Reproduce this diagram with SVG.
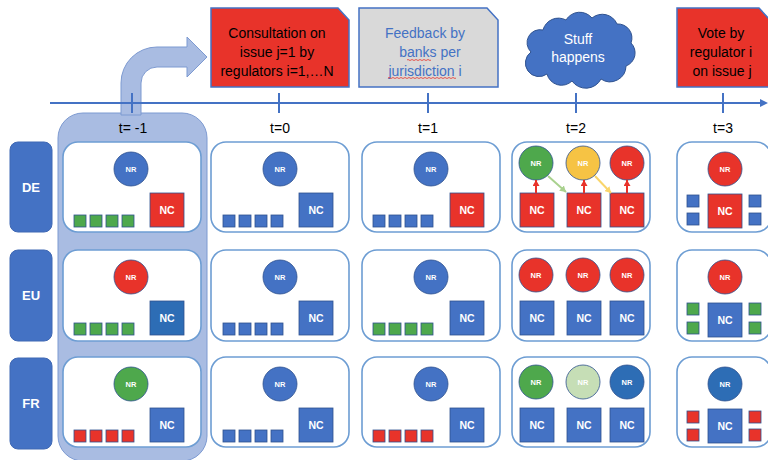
<svg xmlns="http://www.w3.org/2000/svg" width="768" height="460" viewBox="0 0 768 460">
  <defs>
    <style>
      text{font-family:'Liberation Sans',Arial,sans-serif}
      .cell{fill:#fff;stroke:#6D9DD3;stroke-width:1.6}
      .lbl{fill:#4472C4;stroke:#3F68B4;stroke-width:1}
      .lblt{fill:#fff;font-size:13px;font-weight:bold;text-anchor:middle}
      .b{fill:#4472C4}
      .r{fill:#E8332A}
      .g{fill:#4EA84C}
      .y{fill:#F6C344}
      .lg{fill:#C6DEB6}
      .db{fill:#2D6DB5}
      .sh{stroke:#2F528F;stroke-width:0.8}
      .nrt{fill:#fff;font-size:7.5px;font-weight:bold;text-anchor:middle}
      .nct{fill:#fff;font-size:10.5px;font-weight:bold;text-anchor:middle}
      .tl{fill:#000;font-size:14px;text-anchor:middle}
      .note{stroke:#4472C4;stroke-width:1.5}
      .nt{font-size:14px;text-anchor:middle}
      .axis{stroke:#4472C4;stroke-width:2;fill:none}
      .squig{fill:none;stroke:#E8332A;stroke-width:0.8}
    </style>
    <marker id="ahR" markerUnits="userSpaceOnUse" markerWidth="7" markerHeight="7" refX="6" refY="3.5" orient="auto">
      <path d="M0,0 L6,3.5 L0,7 Z" fill="#E8332A"/>
    </marker>
    <marker id="ahG" markerUnits="userSpaceOnUse" markerWidth="7" markerHeight="7" refX="6" refY="3.5" orient="auto">
      <path d="M0,0 L6,3.5 L0,7 Z" fill="#A9D18E"/>
    </marker>
    <marker id="ahY" markerUnits="userSpaceOnUse" markerWidth="7" markerHeight="7" refX="6" refY="3.5" orient="auto">
      <path d="M0,0 L6,3.5 L0,7 Z" fill="#F9D56B"/>
    </marker>
  </defs>

  <!-- highlighted starting column t=-1 -->
  <rect id="col-start" x="58" y="113" width="149" height="348" rx="25" fill="#A9BCE2" stroke="#7D9AD1" stroke-width="1"/>

  <!-- jurisdiction labels -->
  <g id="label-DE"><rect class="lbl" x="10" y="142" width="42" height="90" rx="8"/><text class="lblt" x="31" y="192">DE</text></g>
  <g id="label-EU"><rect class="lbl" x="10" y="250" width="42" height="91" rx="8"/><text class="lblt" x="31" y="300">EU</text></g>
  <g id="label-FR"><rect class="lbl" x="10" y="358" width="42" height="91" rx="8"/><text class="lblt" x="31" y="408">FR</text></g>

  <!-- ===== DE row ===== -->
  <g id="DE-tm1">
    <rect class="cell" x="63" y="142" width="138" height="90" rx="15"/>
    <circle class="b sh" cx="131" cy="169" r="17"/><text class="nrt" x="131" y="171.7">NR</text>
    <rect class="r sh" x="150" y="193" width="34" height="34"/><text class="nct" x="167" y="214">NC</text>
    <rect class="g sh" x="74" y="215" width="12" height="12"/><rect class="g sh" x="90" y="215" width="12" height="12"/><rect class="g sh" x="106" y="215" width="12" height="12"/><rect class="g sh" x="122" y="215" width="12" height="12"/>
  </g>
  <g id="DE-t0">
    <rect class="cell" x="211" y="142" width="138" height="90" rx="15"/>
    <circle class="b sh" cx="280" cy="169" r="17"/><text class="nrt" x="280" y="171.7">NR</text>
    <rect class="b sh" x="299" y="193" width="34" height="34"/><text class="nct" x="316" y="214">NC</text>
    <rect class="b sh" x="223" y="215" width="12" height="12"/><rect class="b sh" x="239" y="215" width="12" height="12"/><rect class="b sh" x="255" y="215" width="12" height="12"/><rect class="b sh" x="271" y="215" width="12" height="12"/>
  </g>
  <g id="DE-t1">
    <rect class="cell" x="362" y="142" width="138" height="90" rx="15"/>
    <circle class="b sh" cx="431" cy="169" r="17"/><text class="nrt" x="431" y="171.7">NR</text>
    <rect class="r sh" x="450" y="193" width="34" height="34"/><text class="nct" x="467" y="214">NC</text>
    <rect class="b sh" x="373" y="215" width="12" height="12"/><rect class="b sh" x="389" y="215" width="12" height="12"/><rect class="b sh" x="405" y="215" width="12" height="12"/><rect class="b sh" x="421" y="215" width="12" height="12"/>
  </g>
  <g id="DE-t2">
    <rect class="cell" x="512" y="142" width="138" height="90" rx="15"/>
    <circle class="g sh" cx="536" cy="163" r="17"/><text class="nrt" x="536" y="165.7">NR</text>
    <circle class="y sh" cx="583" cy="163" r="17"/><text class="nrt" x="583" y="165.7">NR</text>
    <circle class="r sh" cx="627" cy="163" r="17"/><text class="nrt" x="627" y="165.7">NR</text>
    <rect class="r sh" x="520" y="193" width="34" height="34"/><text class="nct" x="537" y="214">NC</text>
    <rect class="r sh" x="567" y="193" width="34" height="34"/><text class="nct" x="584" y="214">NC</text>
    <rect class="r sh" x="610" y="193" width="34" height="34"/><text class="nct" x="627" y="214">NC</text>
  </g>
  <g id="DE-t3">
    <rect class="cell" x="677" y="142" width="94" height="90" rx="15"/>
    <circle class="r sh" cx="725" cy="169" r="17"/><text class="nrt" x="725" y="171.7">NR</text>
    <rect class="r sh" x="708" y="194" width="34" height="34"/><text class="nct" x="725" y="215">NC</text>
    <rect class="b sh" x="687" y="195" width="12" height="12"/><rect class="b sh" x="687" y="213" width="12" height="12"/>
    <rect class="b sh" x="749" y="195" width="12" height="12"/><rect class="b sh" x="749" y="213" width="12" height="12"/>
  </g>

  <!-- ===== EU row ===== -->
  <g id="EU-tm1">
    <rect class="cell" x="63" y="250" width="138" height="91" rx="15"/>
    <circle class="r sh" cx="131" cy="277" r="17"/><text class="nrt" x="131" y="279.7">NR</text>
    <rect class="db sh" x="150" y="301" width="34" height="34"/><text class="nct" x="167" y="322">NC</text>
    <rect class="g sh" x="74" y="323" width="12" height="12"/><rect class="g sh" x="90" y="323" width="12" height="12"/><rect class="g sh" x="106" y="323" width="12" height="12"/><rect class="g sh" x="122" y="323" width="12" height="12"/>
  </g>
  <g id="EU-t0">
    <rect class="cell" x="211" y="250" width="138" height="91" rx="15"/>
    <circle class="b sh" cx="280" cy="277" r="17"/><text class="nrt" x="280" y="279.7">NR</text>
    <rect class="b sh" x="299" y="301" width="34" height="34"/><text class="nct" x="316" y="322">NC</text>
    <rect class="b sh" x="223" y="323" width="12" height="12"/><rect class="b sh" x="239" y="323" width="12" height="12"/><rect class="b sh" x="255" y="323" width="12" height="12"/><rect class="b sh" x="271" y="323" width="12" height="12"/>
  </g>
  <g id="EU-t1">
    <rect class="cell" x="362" y="250" width="138" height="91" rx="15"/>
    <circle class="b sh" cx="431" cy="277" r="17"/><text class="nrt" x="431" y="279.7">NR</text>
    <rect class="b sh" x="450" y="301" width="34" height="34"/><text class="nct" x="467" y="322">NC</text>
    <rect class="g sh" x="373" y="323" width="12" height="12"/><rect class="g sh" x="389" y="323" width="12" height="12"/><rect class="g sh" x="405" y="323" width="12" height="12"/><rect class="g sh" x="421" y="323" width="12" height="12"/>
  </g>
  <g id="EU-t2">
    <rect class="cell" x="512" y="250" width="138" height="91" rx="15"/>
    <circle class="r sh" cx="536" cy="275" r="17"/><text class="nrt" x="536" y="277.7">NR</text>
    <circle class="r sh" cx="583" cy="275" r="17"/><text class="nrt" x="583" y="277.7">NR</text>
    <circle class="r sh" cx="627" cy="275" r="17"/><text class="nrt" x="627" y="277.7">NR</text>
    <rect class="b sh" x="520" y="301" width="34" height="34"/><text class="nct" x="537" y="322">NC</text>
    <rect class="b sh" x="567" y="301" width="34" height="34"/><text class="nct" x="584" y="322">NC</text>
    <rect class="b sh" x="610" y="301" width="34" height="34"/><text class="nct" x="627" y="322">NC</text>
  </g>
  <g id="EU-t3">
    <rect class="cell" x="677" y="250" width="94" height="91" rx="15"/>
    <circle class="r sh" cx="725" cy="277" r="17"/><text class="nrt" x="725" y="279.7">NR</text>
    <rect class="b sh" x="708" y="303" width="34" height="34"/><text class="nct" x="725" y="324">NC</text>
    <rect class="g sh" x="687" y="303" width="12" height="12"/><rect class="g sh" x="687" y="322" width="12" height="12"/>
    <rect class="g sh" x="749" y="303" width="12" height="12"/><rect class="g sh" x="749" y="322" width="12" height="12"/>
  </g>

  <!-- ===== FR row ===== -->
  <g id="FR-tm1">
    <rect class="cell" x="63" y="357" width="138" height="90" rx="15"/>
    <circle class="g sh" cx="131" cy="384" r="17"/><text class="nrt" x="131" y="386.7">NR</text>
    <rect class="b sh" x="150" y="408" width="34" height="34"/><text class="nct" x="167" y="429">NC</text>
    <rect class="r sh" x="74" y="430" width="12" height="12"/><rect class="r sh" x="90" y="430" width="12" height="12"/><rect class="r sh" x="106" y="430" width="12" height="12"/><rect class="r sh" x="122" y="430" width="12" height="12"/>
  </g>
  <g id="FR-t0">
    <rect class="cell" x="211" y="357" width="138" height="90" rx="15"/>
    <circle class="b sh" cx="280" cy="384" r="17"/><text class="nrt" x="280" y="386.7">NR</text>
    <rect class="b sh" x="299" y="408" width="34" height="34"/><text class="nct" x="316" y="429">NC</text>
    <rect class="b sh" x="223" y="430" width="12" height="12"/><rect class="b sh" x="239" y="430" width="12" height="12"/><rect class="b sh" x="255" y="430" width="12" height="12"/><rect class="b sh" x="271" y="430" width="12" height="12"/>
  </g>
  <g id="FR-t1">
    <rect class="cell" x="362" y="357" width="138" height="90" rx="15"/>
    <circle class="b sh" cx="431" cy="384" r="17"/><text class="nrt" x="431" y="386.7">NR</text>
    <rect class="b sh" x="450" y="408" width="34" height="34"/><text class="nct" x="467" y="429">NC</text>
    <rect class="r sh" x="373" y="430" width="12" height="12"/><rect class="r sh" x="389" y="430" width="12" height="12"/><rect class="r sh" x="405" y="430" width="12" height="12"/><rect class="r sh" x="421" y="430" width="12" height="12"/>
  </g>
  <g id="FR-t2">
    <rect class="cell" x="512" y="357" width="138" height="90" rx="15"/>
    <circle class="g sh" cx="536" cy="382" r="17"/><text class="nrt" x="536" y="384.7">NR</text>
    <circle class="lg sh" cx="583" cy="382" r="17"/><text class="nrt" x="583" y="384.7">NR</text>
    <circle class="db sh" cx="627" cy="382" r="17"/><text class="nrt" x="627" y="384.7">NR</text>
    <rect class="b sh" x="520" y="408" width="34" height="34"/><text class="nct" x="537" y="429">NC</text>
    <rect class="b sh" x="567" y="408" width="34" height="34"/><text class="nct" x="584" y="429">NC</text>
    <rect class="b sh" x="610" y="408" width="34" height="34"/><text class="nct" x="627" y="429">NC</text>
  </g>
  <g id="FR-t3">
    <rect class="cell" x="677" y="357" width="94" height="90" rx="15"/>
    <circle class="db sh" cx="725" cy="384" r="17"/><text class="nrt" x="725" y="386.7">NR</text>
    <rect class="b sh" x="708" y="409" width="34" height="34"/><text class="nct" x="725" y="430">NC</text>
    <rect class="r sh" x="687" y="411" width="12" height="12"/><rect class="r sh" x="687" y="429" width="12" height="12"/>
    <rect class="r sh" x="749" y="411" width="12" height="12"/><rect class="r sh" x="749" y="429" width="12" height="12"/>
  </g>

  <!-- connectors -->
  <g id="connectors" fill="none" stroke-width="2">
    <line x1="536" y1="193" x2="536" y2="180" stroke="#E8332A" marker-end="url(#ahR)"/>
    <line x1="584" y1="193" x2="584" y2="180" stroke="#E8332A" marker-end="url(#ahR)"/>
    <line x1="627" y1="193" x2="627" y2="180" stroke="#E8332A" marker-end="url(#ahR)"/>
    <line x1="548" y1="176" x2="566" y2="192" stroke="#A9D18E" marker-end="url(#ahG)"/>
    <line x1="595" y1="176" x2="611" y2="193" stroke="#F9D56B" marker-end="url(#ahY)"/>
  </g>

  <!-- bent arrow leading from the start column to the consultation -->
  <path id="bent-arrow" d="M121,115 L121,83 A36,36 0 0 1 157,47 L187,47 L187,37 L207,57 L187,77 L187,67 L157,67 A16,16 0 0 0 141,83 L141,115 Z" fill="#A9BCE2" stroke="#7D9AD1" stroke-width="1"/>

  <!-- time axis -->
  <g id="timeline">
    <line class="axis" x1="50" y1="103" x2="762" y2="103"/>
    <path d="M760,99 L768,103 L760,107 Z" fill="#4472C4"/>
    <line class="axis" x1="132" y1="93" x2="132" y2="113"/>
    <line class="axis" x1="279" y1="93" x2="279" y2="113"/>
    <line class="axis" x1="428" y1="93" x2="428" y2="113"/>
    <line class="axis" x1="576" y1="93" x2="576" y2="113"/>
    <line class="axis" x1="723" y1="93" x2="723" y2="113"/>
    <text class="tl" x="133" y="133">t= -1</text>
    <text class="tl" x="280" y="133">t=0</text>
    <text class="tl" x="428" y="133">t=1</text>
    <text class="tl" x="576" y="133">t=2</text>
    <text class="tl" x="723" y="133">t=3</text>
  </g>

  <!-- callouts above the axis -->
  <g id="consultation">
    <path class="note" d="M211,8 L338,8 L349,20 L349,87 L211,87 Z" fill="#E8332A"/>
    <text class="nt" x="277" y="38">Consultation on</text>
    <text class="nt" x="277" y="57">issue j=1 by</text>
    <text class="nt" x="277" y="76">regulators i=1,…N</text>
  </g>
  <g id="feedback">
    <path class="note" d="M359,8 L487,8 L498,20 L498,87 L359,87 Z" fill="#D9D9D9"/>
    <text class="nt" x="425" y="38" fill="#4472C4">Feedback by</text>
    <text class="nt" x="430" y="57" fill="#4472C4">banks per</text>
    <text class="nt" x="425" y="76" fill="#4472C4">jurisdiction i</text>
    <path class="squig" d="M407,60 q1,-1 2,0 t2,0 t2,0 t2,0 t2,0 t2,0 t2,0 t2,0 t2,0 t2,0 t2,0 t2,0"/>
    <path class="squig" d="M388,78 q1,-1 2,0 t2,0 t2,0 t2,0 t2,0 t2,0 t2,0 t2,0 t2,0 t2,0 t2,0 t2,0 t2,0 t2,0 t2,0 t2,0 t2,0 t2,0 t2,0 t2,0 t2,0 t2,0 t2,0 t2,0 t2,0 t2,0 t2,0 t2,0 t2,0 t2,0 t2,0 t2,0 t2,0 t2,0"/>
  </g>
  <g id="stuff-happens">
    <path d="M531,52 A13,13 0 0 1 543,30 A16,16 0 0 1 566,20 A16,16 0 0 1 592,18 A16,16 0 0 1 617,24 A14,14 0 0 1 631,43 A14,14 0 0 1 626,66 A16,16 0 0 1 601,79 A17,17 0 0 1 572,81 A15,15 0 0 1 547,74 A13,13 0 0 1 531,52 Z" fill="#4472C4" stroke="#2F528F" stroke-width="1"/>
    <text class="nt" x="578" y="44" fill="#fff">Stuff</text>
    <text class="nt" x="578" y="62" fill="#fff">happens</text>
  </g>
  <g id="vote">
    <path class="note" d="M677,8 L759,8 L770,20 L770,87 L677,87 Z" fill="#E8332A"/>
    <text class="nt" x="721" y="38">Vote by</text>
    <text class="nt" x="721" y="57">regulator i</text>
    <text class="nt" x="722" y="76">on issue j</text>
  </g>
</svg>
